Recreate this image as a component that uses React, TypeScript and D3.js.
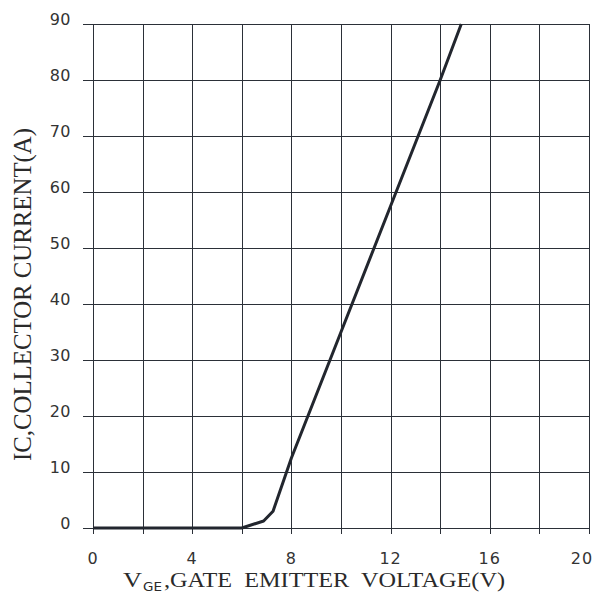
import { useEffect, useRef } from "react";
import * as d3 from "d3";

// curve
const vge = [0, 6, 6.88, 7.26, 8, 10, 12, 14, 14.85];
const ic = [0, 0, 1.25, 3, 12.5, 35, 57.5, 80, 90];

const xTicks = [0, 4, 8, 12, 16, 20];
const yTicks = [0, 10, 20, 30, 40, 50, 60, 70, 80, 90];
const xGrid = [0, 2, 4, 6, 8, 10, 12, 14, 16, 18, 20];

const App = () => {
  const svgRef = useRef<SVGSVGElement>(null);

  useEffect(() => {
    const width = 600;
    const height = 594;
    const left = 93;
    const right = 589;
    const top = 24;
    const bottom = 528;
    const ink = "#2b3038";

    const svg = d3.select(svgRef.current);
    svg.selectAll("*").remove();
    svg.attr("width", width).attr("height", height);

    svg.append("rect").attr("width", width).attr("height", height).attr("fill", "#fff");

    const x = d3.scaleLinear().domain([0, 20]).range([left, right]);
    const y = d3.scaleLinear().domain([0, 90]).range([bottom, top]);

    // horizontal grid lines (stick out to the left)
    svg
      .append("g")
      .selectAll("line")
      .data(yTicks)
      .enter()
      .append("line")
      .attr("x1", left - 10)
      .attr("x2", right)
      .attr("y1", (d) => Math.round(y(d)) + 0.5)
      .attr("y2", (d) => Math.round(y(d)) + 0.5)
      .attr("stroke", ink)
      .attr("stroke-width", 1);

    // vertical grid lines (stick out below)
    svg
      .append("g")
      .selectAll("line")
      .data(xGrid)
      .enter()
      .append("line")
      .attr("x1", (d) => Math.round(x(d)) + 0.5)
      .attr("x2", (d) => Math.round(x(d)) + 0.5)
      .attr("y1", top)
      .attr("y2", bottom + 6)
      .attr("stroke", ink)
      .attr("stroke-width", 1);

    // y tick labels
    svg
      .append("g")
      .selectAll("text")
      .data(yTicks)
      .enter()
      .append("text")
      .attr("x", 71)
      .attr("y", (d) => y(d) + 1)
      .attr("text-anchor", "end")
      .attr("font-family", "DejaVu Sans")
      .attr("font-size", 16)
      .attr("letter-spacing", 0.5)
      .attr("fill", "#333")
      .text((d) => d);

    // x tick labels
    svg
      .append("g")
      .selectAll("text")
      .data(xTicks)
      .enter()
      .append("text")
      .attr("x", (d) => x(d) - (d === 20 ? 7 : 0))
      .attr("y", 564)
      .attr("text-anchor", "middle")
      .attr("font-family", "DejaVu Sans")
      .attr("font-size", 16)
      .attr("letter-spacing", 1)
      .attr("fill", "#333")
      .text((d) => d);

    // curve
    const line = d3
      .line<number>()
      .x((d, i) => x(vge[i]))
      .y((d) => y(d));

    svg
      .append("path")
      .datum(ic)
      .attr("fill", "none")
      .attr("stroke", "#22262e")
      .attr("stroke-width", 3)
      .attr("stroke-linejoin", "round")
      .attr("d", line);

    // x axis title
    const xt = svg.append("g").attr("fill", "#2a2a2a");
    xt.append("text")
      .attr("x", 123)
      .attr("y", 587)
      .attr("font-family", "Liberation Serif")
      .attr("font-size", 20)
      .attr("textLength", 19)
      .attr("lengthAdjust", "spacingAndGlyphs")
      .text("V");
    xt.append("text")
      .attr("x", 143)
      .attr("y", 591)
      .attr("font-family", "DejaVu Sans")
      .attr("font-size", 12)
      .attr("textLength", 19)
      .attr("lengthAdjust", "spacingAndGlyphs")
      .text("GE");
    xt.append("text")
      .attr("x", 164)
      .attr("y", 587)
      .attr("font-family", "Liberation Serif")
      .attr("font-size", 20)
      .attr("textLength", 341)
      .attr("lengthAdjust", "spacingAndGlyphs")
      .style("white-space", "pre")
      .text(",GATE  EMITTER  VOLTAGE(V)");

    // y axis title
    svg
      .append("text")
      .attr("transform", "translate(31,461) rotate(-90)")
      .attr("x", 0)
      .attr("y", 0)
      .attr("fill", "#2a2a2a")
      .attr("font-family", "Liberation Serif")
      .attr("font-size", 26)
      .attr("textLength", 333)
      .attr("lengthAdjust", "spacingAndGlyphs")
      .style("white-space", "pre")
      .text("IC,COLLECTOR CURRENT(A)");
  }, []);

  return (
    <svg
      ref={svgRef}
      style={{ position: "absolute", left: 0, top: 0, display: "block" }}
    ></svg>
  );
};

export default App;
